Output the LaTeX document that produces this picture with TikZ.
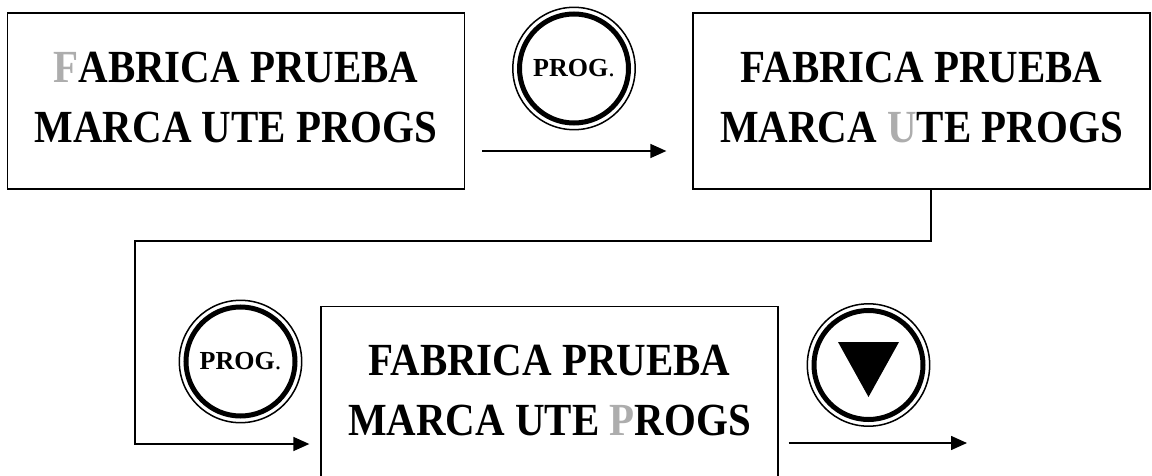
\documentclass[tikz,border=0pt]{standalone}
\usepackage{fontspec}
\setmainfont{Liberation Serif}[FakeStretch=0.89]
\newfontfamily\btnfont{Liberation Serif}
\usepackage{tikz}
\usetikzlibrary{arrows.meta}
\definecolor{dimgray}{gray}{0.68}
\begin{document}
\begin{tikzpicture}[x=1pt,y=-1pt,
                        box/.style={draw, line width=1.3pt, minimum width=457pt, minimum height=176pt,
                          inner sep=0pt, align=center, text depth=8pt,
                          font=\fontsize{46}{60}\selectfont\bfseries},
                        btn/.style={circle, draw, line width=5pt, minimum size=109pt, inner sep=0pt,
                          font=\btnfont\fontsize{26}{30}\selectfont\bfseries},
                        arr/.style={line width=1.5pt, -{Triangle[length=16pt,width=14pt]}}]
                        \useasboundingbox (0,0) rectangle (1152,476);

                        \node[box] (box1) at (236,101) {\textcolor{dimgray}{F}ABRICA PRUEBA\\MARCA UTE PROGS};
                        \node[box] (box2) at (921.5,101) {FABRICA PRUEBA\\MARCA \textcolor{dimgray}{U}TE PROGS};
                        \node[box] (box3) at (549.5,394.5) {FABRICA PRUEBA\\MARCA UTE \textcolor{dimgray}{P}ROGS};

                        \node[btn] (prog1) at (574,68.5) {PROG\textmd{.}};
                        \node[btn] (prog2) at (240.5,361.5) {PROG\textmd{.}};
                        \node[btn] (down) at (868.5,365) {};
                        \foreach \b in {prog1,prog2,down}
                            \draw[line width=1.5pt] (\b) circle (61.2pt);
                        \fill ([shift={(-30.5pt,23pt)}]down.center) -- ([shift={(30.5pt,23pt)}]down.center)
                            -- ([shift={(0pt,-32pt)}]down.center) -- cycle;

                        \coordinate (bend) at (135,241);
                        \coordinate (exit) at (967,443);
                        \draw[arr] ([xshift=17pt,yshift=-50pt]box1.east) -- ([xshift=-26pt,yshift=-50pt]box2.west);
                        \draw[arr] ([xshift=9.5pt]box2.south) |- (bend) |- ([xshift=-11pt,yshift=-49.5pt]box3.west);
                        \draw[arr] ([xshift=10pt,yshift=-48.5pt]box3.east) -- (exit);
                    \end{tikzpicture}
\end{document}
